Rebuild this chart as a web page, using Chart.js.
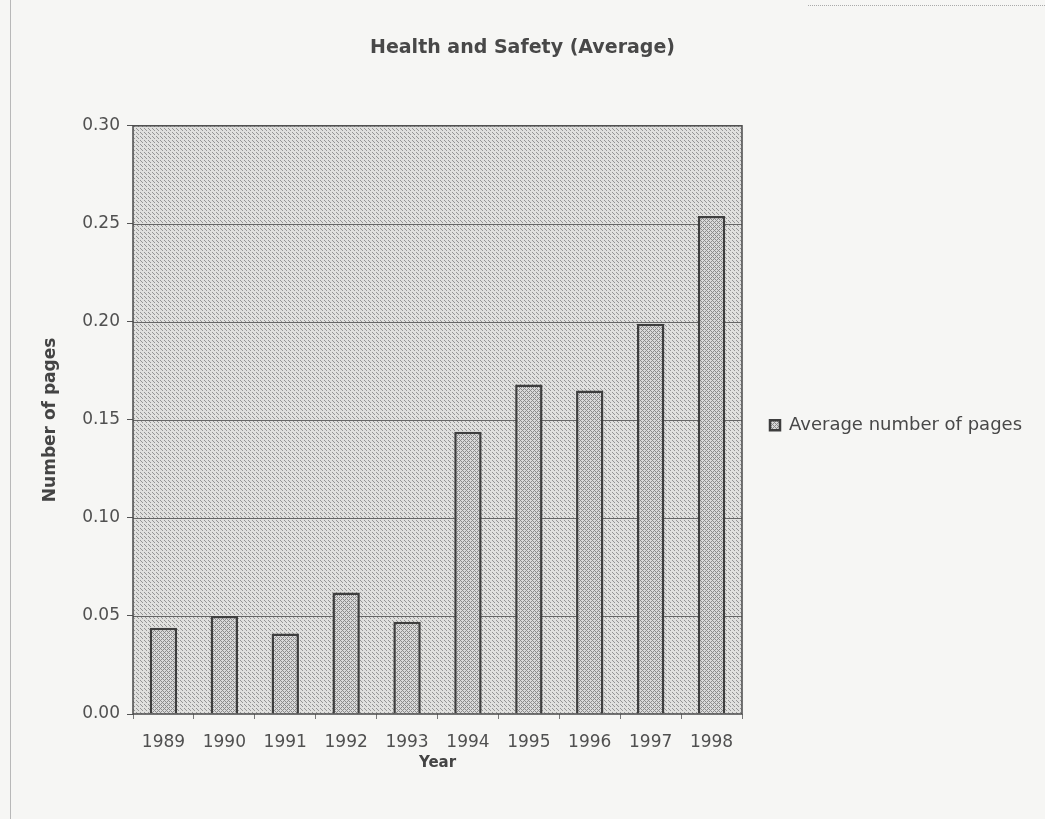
<!DOCTYPE html>
<html>
<head>
<meta charset="utf-8">
<script src="https://cdn.jsdelivr.net/npm/chart.js@4/dist/chart.umd.min.js"></script>
<style>
  html, body { margin: 0; padding: 0; background: #f6f6f4; }
  #wrap { width: 1045px; height: 819px; position: relative; }
  #scanEdge { position: absolute; left: 10px; top: 0; width: 0; height: 819px; border-left: 1px solid #b8b8b8; }
  #scanTop { position: absolute; left: 808px; top: 5px; width: 237px; height: 0; border-top: 1px dotted #aaa; }
</style>
</head>
<body>
<div id="wrap">
  <div id="scanEdge"></div>
  <div id="scanTop"></div>
  <canvas id="chart" width="1045" height="819"></canvas>
</div>
<script>
const years = ['1989', '1990', '1991', '1992', '1993', '1994', '1995', '1996', '1997', '1998'];
const avgPages = [0.044, 0.050, 0.041, 0.062, 0.047, 0.144, 0.168, 0.165, 0.199, 0.254];
const yTicks = [0, 0.05, 0.10, 0.15, 0.20, 0.25, 0.30];

// dotted, scanned-looking fills
const makePattern = (bg, dot, dense) => {
  const c = document.createElement('canvas');
  c.width = 4; c.height = 4;
  const g = c.getContext('2d');
  g.fillStyle = bg;
  g.fillRect(0, 0, 4, 4);
  g.fillStyle = dot;
  g.fillRect(0, 0, 1, 1);
  g.fillRect(2, 2, 1, 1);
  g.fillRect(1, 1, 1, 1);
  if (dense) {
    g.fillRect(3, 1, 1, 1);
    g.fillRect(1, 3, 1, 1);
    g.fillRect(3, 3, 1, 1);
  }
  return g.createPattern(c, 'repeat');
};

const ctx = document.getElementById('chart').getContext('2d');
const plotFill = makePattern('#e0e0de', '#949494', false);
const barFill = makePattern('#dadada', '#8c8c8c', true);

const plotBackground = {
  id: 'plotBackground',
  afterInit(chart) {
    // make the legend column as wide as the gap right of the plot
    const lg = chart.legend;
    const fit = lg.fit.bind(lg);
    lg.fit = function () { fit(); this.width = 303; };
  },
  beforeDatasetsDraw(chart) {
    const { ctx, chartArea: a } = chart;
    ctx.save();
    ctx.fillStyle = plotFill;
    ctx.fillRect(a.left, a.top, a.right - a.left, a.bottom - a.top);
    const y = chart.scales.y;
    ctx.strokeStyle = '#666';
    ctx.lineWidth = 1;
    yTicks.forEach(t => {
      if (t === 0 || t === 0.30) return;
      const py = Math.round(y.getPixelForValue(t)) + 0.5;
      ctx.beginPath();
      ctx.moveTo(a.left, py);
      ctx.lineTo(a.right, py);
      ctx.stroke();
    });
    ctx.restore();
  },
  afterDatasetsDraw(chart) {
    const { ctx, chartArea: a } = chart;
    ctx.save();
    ctx.strokeStyle = '#4a4a4a';
    ctx.lineWidth = 1.5;
    ctx.strokeRect(a.left, a.top, a.right - a.left, a.bottom - a.top);
    ctx.restore();
  }
};

new Chart(ctx, {
  type: 'bar',
  data: {
    labels: years,
    datasets: [{
      label: 'Average number of pages',
      data: avgPages,
      backgroundColor: barFill,
      borderColor: '#3e3e3e',
      borderWidth: 2.5,
      borderSkipped: 'bottom',
      barPercentage: 0.45,
      categoryPercentage: 1.0
    }]
  },
  options: {
    responsive: false,
    animation: false,
    layout: { padding: { top: 0, left: 0, right: 0, bottom: 47 } },
    plugins: {
      title: {
        display: true,
        text: 'Health and Safety (Average)',
        color: '#484848',
        font: { family: 'DejaVu Sans', size: 19, weight: 'bold' },
        padding: { top: 37, bottom: 66 }
      },
      legend: {
        position: 'right',
        title: { display: true, text: '', font: { size: 12 }, padding: { top: 64, bottom: 0 } },
        labels: {
          color: '#484848',
          font: { family: 'DejaVu Sans', size: 18 },
          boxWidth: 10,
          boxHeight: 10,
          padding: 28
        }
      },
      tooltip: { enabled: false }
    },
    scales: {
      x: {
        afterFit(scale) { scale.height = 58; },
        grid: { display: true, offset: true, drawOnChartArea: false, color: '#777', tickLength: 5 },
        border: { display: false },
        ticks: { color: '#505050', font: { family: 'DejaVu Sans', size: 17 }, padding: 13, maxRotation: 0 },
        title: { display: true, text: 'Year', color: '#444', font: { family: 'DejaVu Sans', size: 15, weight: 'bold' }, padding: 0 }
      },
      y: {
        min: 0,
        max: 0.30,
        afterFit(scale) { scale.width = 133; },
        afterBuildTicks(scale) { scale.ticks = yTicks.map(v => ({ value: v })); },
        grid: { drawOnChartArea: false, color: '#555', tickLength: 6 },
        border: { display: false },
        ticks: {
          color: '#505050',
          font: { family: 'DejaVu Sans', size: 17 },
          padding: 7,
          callback: v => v.toFixed(2)
        },
        title: { display: true, text: 'Number of pages', color: '#444', font: { family: 'DejaVu Sans', size: 17, weight: 'bold' }, padding: { top: 40, bottom: 40 } }
      }
    }
  },
  plugins: [plotBackground]
});
</script>
</body>
</html>
